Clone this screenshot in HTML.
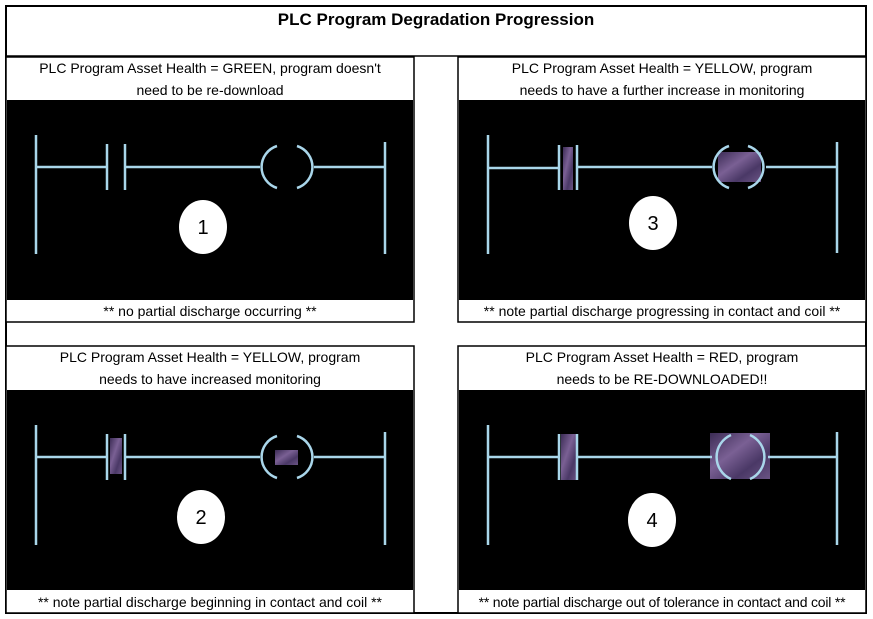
<!DOCTYPE html>
<html><head><meta charset="utf-8"><style>
body{margin:0;width:873px;height:619px;background:#fff;position:relative;overflow:hidden;font-family:"Liberation Sans",sans-serif}
.t{position:absolute;text-align:center;color:#000;font-size:14px;line-height:22px}
</style></head><body>
<svg width="873" height="619" style="position:absolute;left:0;top:0">
<defs>
<linearGradient id="pd" x1="0" y1="0" x2="1" y2="1">
<stop offset="0" stop-color="#3c2c55"/><stop offset="0.4" stop-color="#7a6094"/><stop offset="0.7" stop-color="#4a3866"/><stop offset="1" stop-color="#6a5484"/>
</linearGradient>
</defs>
<rect x="6" y="6" width="860" height="607" fill="#fff" stroke="#000" stroke-width="2"/>
<line x1="6" y1="56" x2="866" y2="56" stroke="#000" stroke-width="1.5"/>
<rect x="6" y="57" width="408" height="265" fill="#fff" stroke="#000" stroke-width="1.5"/>
<rect x="7" y="100" width="406" height="200" fill="#000"/>
<rect x="458" y="57" width="408" height="265" fill="#fff" stroke="#000" stroke-width="1.5"/>
<rect x="459" y="100" width="406" height="200" fill="#000"/>
<rect x="6" y="346" width="408" height="267" fill="#fff" stroke="#000" stroke-width="1.5"/>
<rect x="7" y="390" width="406" height="200" fill="#000"/>
<rect x="458" y="346" width="408" height="267" fill="#fff" stroke="#000" stroke-width="1.5"/>
<rect x="459" y="390" width="406" height="200" fill="#000"/>
<!-- discharge -->
<rect x="110" y="438" width="12" height="36" fill="url(#pd)"/>
<rect x="275" y="450" width="23" height="15" fill="url(#pd)"/>
<rect x="563" y="147" width="10" height="43" fill="url(#pd)"/>
<rect x="718" y="152" width="43" height="30" fill="url(#pd)"/>
<rect x="561" y="434" width="16" height="46" fill="url(#pd)"/>
<rect x="710" y="433" width="60" height="46" fill="url(#pd)"/>
<g stroke="#a9d6ea" stroke-width="2.5" fill="none">
<!-- panel 1 -->
<line x1="36" y1="135" x2="36" y2="254"/><line x1="36" y1="167" x2="107" y2="167"/>
<line x1="107" y1="144" x2="107" y2="190"/><line x1="125" y1="144" x2="125" y2="190"/>
<line x1="125" y1="167" x2="260" y2="167"/>
<path d="M277 146 A22 22 0 0 0 277 188"/><path d="M297 146 A22 22 0 0 1 297 188"/>
<line x1="314" y1="167" x2="385" y2="167"/><line x1="385" y1="142" x2="385" y2="254"/>
<!-- panel 2 -->
<line x1="36" y1="425" x2="36" y2="545"/><line x1="36" y1="457" x2="107" y2="457"/>
<line x1="107" y1="434" x2="107" y2="480"/><line x1="125" y1="434" x2="125" y2="480"/>
<line x1="125" y1="457" x2="260" y2="457"/>
<path d="M277 436 A22 22 0 0 0 277 478"/><path d="M297 436 A22 22 0 0 1 297 478"/>
<line x1="314" y1="457" x2="385" y2="457"/><line x1="385" y1="432" x2="385" y2="545"/>
<!-- panel 3 -->
<line x1="488" y1="135" x2="488" y2="254"/><line x1="488" y1="168" x2="559" y2="168"/>
<line x1="559" y1="145" x2="559" y2="190"/><line x1="577" y1="145" x2="577" y2="190"/>
<line x1="577" y1="167" x2="712" y2="167"/>
<path d="M729 146 A22 22 0 0 0 729 188"/><path d="M748 146 A22 22 0 0 1 748 188"/>
<line x1="766" y1="167" x2="837" y2="167"/><line x1="837" y1="142" x2="837" y2="253"/>
<!-- panel 4 -->
<line x1="488" y1="425" x2="488" y2="545"/><line x1="488" y1="457" x2="559" y2="457"/>
<line x1="559" y1="434" x2="559" y2="480"/><line x1="577" y1="434" x2="577" y2="480"/>
<line x1="577" y1="457" x2="712" y2="457"/>
<path d="M731 435 A24 24 0 0 0 731 479"/><path d="M750 435 A24 24 0 0 1 750 479"/>
<line x1="768" y1="457" x2="837" y2="457"/><line x1="837" y1="432" x2="837" y2="545"/>
</g>
<g fill="#fff">
<ellipse cx="203" cy="227" rx="24" ry="27"/>
<ellipse cx="201" cy="517" rx="24" ry="27"/>
<ellipse cx="653" cy="223" rx="24" ry="27"/>
<ellipse cx="652" cy="520" rx="24" ry="27"/>
</g>
<g font-family="Liberation Sans,sans-serif" font-size="20" text-anchor="middle" fill="#000">
<text x="203" y="234">1</text><text x="201" y="524">2</text><text x="653" y="230">3</text><text x="652" y="527">4</text>
</g>
</svg>
<div class="t" style="left:6px;top:9px;width:860px;font-weight:bold;font-size:17px">PLC Program Degradation Progression</div>
<div class="t" style="left:6px;top:57px;width:408px">PLC Program Asset Health = GREEN, program doesn't<br>need to be re-download</div>
<div class="t" style="left:6px;top:300px;width:408px">** no partial discharge occurring **</div>
<div class="t" style="left:458px;top:57px;width:408px">PLC Program Asset Health = YELLOW, program<br>needs to have a further increase in monitoring</div>
<div class="t" style="left:458px;top:300px;width:408px">** note partial discharge progressing in contact and coil **</div>
<div class="t" style="left:6px;top:346px;width:408px">PLC Program Asset Health = YELLOW, program<br>needs to have increased monitoring</div>
<div class="t" style="left:6px;top:591px;width:408px">** note partial discharge beginning in contact and coil **</div>
<div class="t" style="left:458px;top:346px;width:408px">PLC Program Asset Health = RED, program<br>needs to be RE-DOWNLOADED!!</div>
<div class="t" style="left:458px;top:591px;width:408px;letter-spacing:-0.2px">** note partial discharge out of tolerance in contact and coil **</div>
</body></html>
